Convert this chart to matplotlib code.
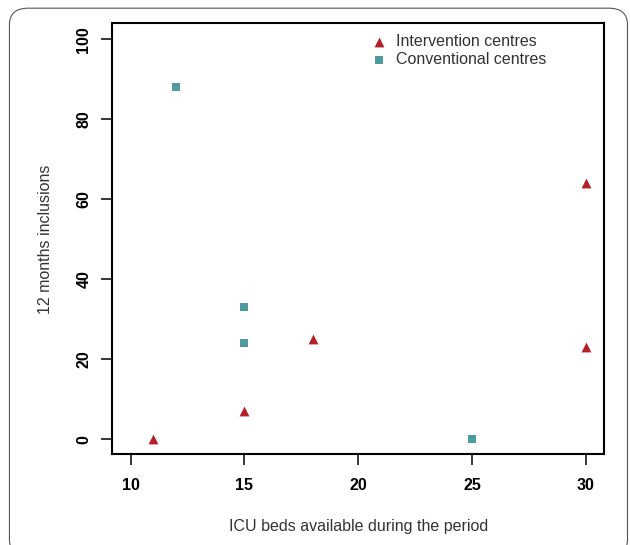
import matplotlib
matplotlib.use("Agg")
import matplotlib.pyplot as plt
from matplotlib.patches import FancyBboxPatch

plt.rcParams['font.family'] = ['Liberation Sans', 'DejaVu Sans']

# data
int_beds = [11, 15, 18, 30, 30]
int_incl = [0, 7, 25, 64, 23]
conv_beds = [12, 15, 15, 25]
conv_incl = [88, 33, 24, 0]
x_ticks = [10, 15, 20, 25, 30]
y_ticks = [0, 20, 40, 60, 80, 100]

red = '#b22028'
teal = '#4e9a9f'
txt = '#333333'

fig = plt.figure(figsize=(6.3, 5.45), dpi=100)

# rounded frame round the whole figure
frame = FancyBboxPatch((0.015, -0.02), 0.981, 1.005,
                       boxstyle="round,pad=0,rounding_size=0.03",
                       transform=fig.transFigure, fill=False,
                       edgecolor='#555555', linewidth=0.8)
fig.patches.append(frame)

ax = fig.add_axes([0.1783, 0.1664, 0.7804, 0.7908])
ax.scatter(int_beds, int_incl, marker='^', s=50, color=red,
           linewidths=0, label='Intervention centres')
ax.scatter(conv_beds, conv_incl, marker='s', s=32, color=teal,
           linewidths=0, label='Conventional centres')

ax.set_xlim(9.2, 30.8)
ax.set_ylim(-3.8, 104)
ax.set_xticks(x_ticks)
ax.set_yticks(y_ticks)
ax.set_xticklabels([str(v) for v in x_ticks], fontweight='bold', fontsize=11.5)
ax.set_yticklabels([str(v) for v in y_ticks], fontweight='bold', fontsize=11.5,
                   rotation=90, va='center')

# R-style box and outward ticks
for s in ax.spines.values():
    s.set_linewidth(1.5)
ax.tick_params(direction='out', length=8, width=1.1, pad=7)
ax.tick_params(axis='x', pad=9)

ax.set_xlabel('ICU beds available during the period', fontsize=11.5,
              color=txt, labelpad=19)
ax.set_ylabel('12 months inclusions', fontsize=11.5, color=txt, labelpad=17)

ax.legend(loc='upper left', bbox_to_anchor=(0.513, 0.989), frameon=False,
          fontsize=11.5, handletextpad=0.6, borderaxespad=0,
          labelspacing=0.15, handlelength=1.0, labelcolor=txt)

fig.savefig('out.png', dpi=100)
